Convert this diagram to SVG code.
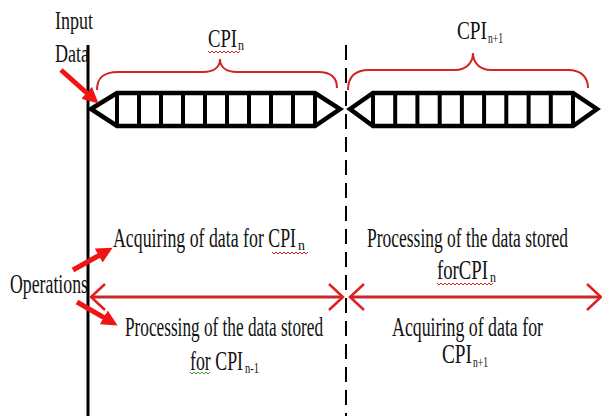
<svg xmlns="http://www.w3.org/2000/svg" width="602" height="416" viewBox="0 0 602 416">
<style>
text{font-family:"Liberation Serif","Times New Roman",serif;fill:#111}
.t{font-size:28px}
.s{font-size:15px}
.buf{fill:#fff;stroke:#000;stroke-width:4.5;stroke-linejoin:miter}
.div{stroke:#000;stroke-width:4}
.brace{fill:none;stroke:#d42424;stroke-width:2}
.fat{stroke:#f01414;stroke-width:5;fill:none;marker-end:url(#head)}
.dbl{stroke:#c82828;stroke-width:3;marker-start:url(#chev);marker-end:url(#chev)}
.sq{fill:none;stroke:#d42424;stroke-width:1}
</style>
<defs>
<marker id="head" viewBox="0 0 10 10" markerWidth="3.2" markerHeight="3.2" refX="3" refY="5" orient="auto" markerUnits="strokeWidth">
<path d="M0,0 L10,5 L0,10 z" fill="#f01414"/>
</marker>
<marker id="chev" viewBox="0 0 18 30" markerWidth="18" markerHeight="30" refX="16" refY="15" orient="auto-start-reverse" markerUnits="userSpaceOnUse">
<path d="M2,2 L16,15 L2,28" fill="none" stroke="#e02020" stroke-width="2.5"/>
</marker>
</defs>

<g id="timeline">
<line x1="88" y1="45" x2="88" y2="416" stroke="#000" stroke-width="3"/>
<line x1="346" y1="45" x2="346" y2="416" stroke="#000" stroke-width="2" stroke-dasharray="15 8"/>
</g>

<g id="input-label">
<text transform="translate(55,29) scale(0.72,1)" font-size="25" textLength="52.8" lengthAdjust="spacingAndGlyphs">Input</text>
<text transform="translate(55,62) scale(0.72,1)" font-size="25" textLength="47.2" lengthAdjust="spacingAndGlyphs">Data</text>
</g>

<g id="buffer-n">
<polygon class="buf" points="91,109 117,93 315,93 340,109 315,126 117,126"/>
<path class="div" d="M117,93V126M139,93V126M161,93V126M183,93V126M205,93V126M227,93V126M249,93V126M271,93V126M293,93V126M315,93V126"/>
</g>

<g id="buffer-n1">
<polygon class="buf" points="350,109 373,93 573,93 597,109 573,126 373,126"/>
<path class="div" d="M373,93V126M395.2,93V126M417.4,93V126M439.7,93V126M461.9,93V126M484.1,93V126M506.3,93V126M528.6,93V126M550.8,93V126M573,93V126"/>
</g>

<g id="cpi-n">
<path class="brace" d="M97,90 C97,78 103,72 118,72 L203,72 C214,72 220,67 220,59 C220,67 226,72 237,72 L318,72 C331,72 337,78 337,88"/>
<text transform="translate(208,47) scale(0.72,1)" font-size="26" textLength="40.3" lengthAdjust="spacingAndGlyphs">CPI</text>
<text transform="translate(238,50) scale(0.75,1)" class="s" textLength="8" lengthAdjust="spacingAndGlyphs">n</text>
<path class="sq" d="M208,51 l2,2 l2,-2 l2,2 l2,-2 l2,2 l2,-2 l2,2 l2,-2 l2,2 l2,-2 l2,2 l2,-2 l2,2 l2,-2 l2,2 l2,-2"/>
</g>

<g id="cpi-n1">
<path class="brace" d="M348,90 C348,78 354,70 369,70 L455,70 C466,70 473,63 473,53 C473,63 480,70 491,70 L568,70 C582,70 588,78 588,88"/>
<text transform="translate(457,39) scale(0.72,1)" font-size="26" textLength="41.7" lengthAdjust="spacingAndGlyphs">CPI</text>
<text transform="translate(488,43) scale(0.75,1)" class="s" textLength="20" lengthAdjust="spacingAndGlyphs">n+1</text>
</g>

<g id="operations-label">
<text transform="translate(10,293) scale(0.65,1)" font-size="28" textLength="120" lengthAdjust="spacingAndGlyphs">Operations</text>
</g>

<g id="op-left-top">
<text transform="translate(113,247) scale(0.63,1)" class="t" textLength="290.5" lengthAdjust="spacingAndGlyphs">Acquiring of data for CPI</text>
<text transform="translate(298,250) scale(0.75,1)" class="s" textLength="9.3" lengthAdjust="spacingAndGlyphs">n</text>
<path class="sq" d="M272,252 l2,2 l2,-2 l2,2 l2,-2 l2,2 l2,-2 l2,2 l2,-2 l2,2 l2,-2 l2,2 l2,-2 l2,2 l2,-2 l2,2 l2,-2 l2,2 l2,-2"/>
</g>

<g id="op-left-bottom">
<text transform="translate(125,336) scale(0.63,1)" class="t" textLength="314.3" lengthAdjust="spacingAndGlyphs">Processing of the data stored</text>
<text transform="translate(190,370) scale(0.63,1)" class="t" textLength="84.1" lengthAdjust="spacingAndGlyphs">for CPI</text>
<text transform="translate(245,373) scale(0.75,1)" class="s" textLength="18.7" lengthAdjust="spacingAndGlyphs">n-1</text>
<path d="M190,372 l2,2 l2,-2 l2,2 l2,-2 l2,2 l2,-2 l2,2 l2,-2 l2,2 l2,-2" fill="none" stroke="#3aa03a" stroke-width="1"/>
</g>

<g id="op-right-top">
<text transform="translate(367,247) scale(0.63,1)" class="t" textLength="319" lengthAdjust="spacingAndGlyphs">Processing of the data stored</text>
<text transform="translate(437,279) scale(0.63,1)" class="t" textLength="81" lengthAdjust="spacingAndGlyphs">forCPI</text>
<text transform="translate(490,282) scale(0.75,1)" class="s" textLength="8" lengthAdjust="spacingAndGlyphs">n</text>
<path class="sq" d="M437,283 l2,2 l2,-2 l2,2 l2,-2 l2,2 l2,-2 l2,2 l2,-2 l2,2 l2,-2 l2,2 l2,-2 l2,2 l2,-2 l2,2 l2,-2 l2,2 l2,-2 l2,2 l2,-2 l2,2 l2,-2 l2,2 l2,-2 l2,2 l2,-2 l2,2 l2,-2"/>
</g>

<g id="op-right-bottom">
<text transform="translate(392,336) scale(0.63,1)" class="t" textLength="239.7" lengthAdjust="spacingAndGlyphs">Acquiring of data for</text>
<text transform="translate(442,363) scale(0.63,1)" class="t" textLength="47.6" lengthAdjust="spacingAndGlyphs">CPI</text>
<text transform="translate(473,367) scale(0.75,1)" class="s" textLength="20" lengthAdjust="spacingAndGlyphs">n+1</text>
</g>

<g id="connectors">
<line class="fat" x1="61" y1="70" x2="90.2" y2="96"/>
<line class="fat" x1="73" y1="270" x2="102.9" y2="253.2"/>
<line class="fat" x1="77" y1="302" x2="107.9" y2="319.8"/>
<line class="dbl" x1="91" y1="297" x2="343" y2="297"/>
<line class="dbl" x1="350" y1="297" x2="601" y2="297"/>
</g>
</svg>
